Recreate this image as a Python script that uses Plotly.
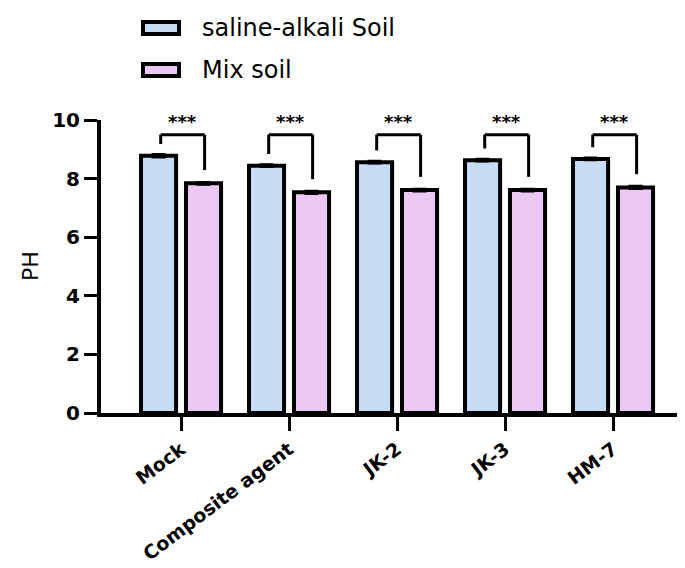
import plotly.graph_objects as go

categories = ["Mock", "Composite agent", "JK-2", "JK-3", "HM-7"]
saline_alkali = [8.78, 8.44, 8.56, 8.63, 8.67]
mix_soil = [7.84, 7.53, 7.61, 7.61, 7.70]
saline_err = [0.04, 0.03, 0.03, 0.03, 0.03]
mix_err = [0.03, 0.04, 0.03, 0.03, 0.04]
sig_labels = ["***", "***", "***", "***", "***"]
series_names = ["saline-alkali Soil", "Mix soil"]
y_ticks = [0, 2, 4, 6, 8, 10]

BLUE = "#c6dcf4"
PINK = "#ebc7f4"
W, H = 685, 568
SH = 8  # page body offset
ML, MT = 101 - SH, 120 - SH
PW, PH_ = 579, 293
MR, MB = W - ML - PW, H - MT - PH_
FONT = "DejaVu Sans"


def px_x(px):
    return (px - SH - ML) / PW


def px_y(py):
    return (MT + PH_ - (py - SH)) / PH_


fig = go.Figure()
for name, vals, errs, col in [(series_names[0], saline_alkali, saline_err, BLUE),
                              (series_names[1], mix_soil, mix_err, PINK)]:
    fig.add_trace(go.Bar(
        x=categories, y=vals, name=name,
        marker=dict(color=col, line=dict(color="black", width=4)),
        error_y=dict(type="data", array=errs, visible=True, color="black",
                     thickness=3, width=7),
        showlegend=False,
    ))

bargap = 0.167
off = (1 - bargap) / 4
shapes = []
annotations = []
for i, (b, p, s) in enumerate(zip(saline_alkali, mix_soil, sig_labels)):
    top = 9.5
    xl, xr = i - off + 0.02, i + off + 0.01
    lw = dict(color="black", width=3)
    shapes.append(dict(type="line", xref="x", yref="y", x0=xl, x1=xl, y0=b + 0.4, y1=top, line=lw))
    shapes.append(dict(type="line", xref="x", yref="y", x0=xl, x1=xr, y0=top, y1=top, line=lw))
    shapes.append(dict(type="line", xref="x", yref="y", x0=xr, x1=xr, y0=p + 0.45, y1=top, line=lw))
    annotations.append(dict(x=(xl + xr) / 2, y=top, xref="x", yref="y", text=s,
                            showarrow=False, yanchor="bottom", yshift=1,
                            font=dict(family=FONT, size=18, color="black", weight="bold")))

# manual legend
for k, (name, col) in enumerate(zip(series_names, [BLUE, PINK])):
    cy = 28 + 42 * k
    shapes.append(dict(type="rect", xref="paper", yref="paper",
                       x0=px_x(143), x1=px_x(179), y0=px_y(cy - 6), y1=px_y(cy + 6),
                       fillcolor=col, line=dict(color="black", width=4)))
    annotations.append(dict(x=px_x(200), y=px_y(cy), xref="paper", yref="paper",
                            text=name, showarrow=False, xanchor="left", yanchor="middle",
                            font=dict(family=FONT, size=24, color="black")))

annotations.append(dict(x=px_x(30), y=px_y(266), xref="paper", yref="paper", text="PH",
                        showarrow=False, textangle=-90, xanchor="center", yanchor="middle",
                        font=dict(family=FONT, size=22, color="black")))

fig.update_layout(
    width=W, height=H,
    margin=dict(l=ML, r=MR, t=MT, b=MB, autoexpand=False),
    plot_bgcolor="white", paper_bgcolor="white",
    barmode="group", bargap=bargap, bargroupgap=0.22,
    shapes=shapes, annotations=annotations,
    xaxis=dict(range=[-0.741, 4.62], showline=True, linecolor="black", linewidth=4,
               ticks="outside", ticklen=14, tickwidth=3, tickcolor="black",
               tickangle=-37, showgrid=False, zeroline=False, automargin=False,
               tickfont=dict(family=FONT, size=19, color="black", weight="bold")),
    yaxis=dict(range=[0, 10], tickvals=y_ticks, showline=True, linecolor="black", linewidth=4,
               ticks="outside", ticklen=13, tickwidth=3, tickcolor="black",
               showgrid=False, zeroline=False, automargin=False,
               tickfont=dict(family=FONT, size=20, color="black", weight="bold")),
)

fig.write_html("out.html")
